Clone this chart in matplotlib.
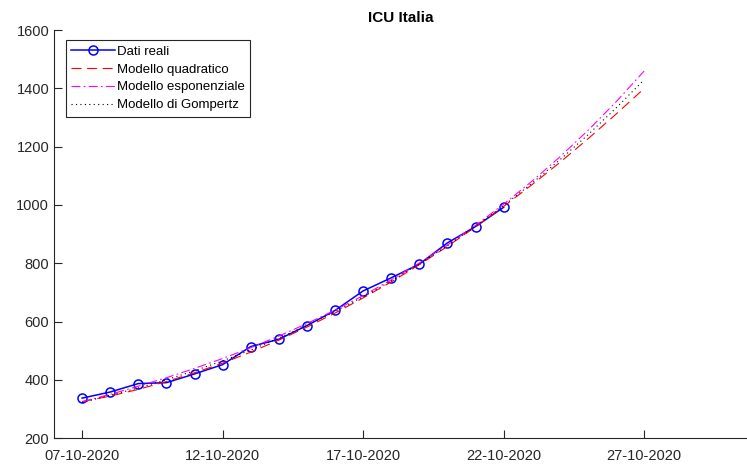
import numpy as np
import pandas as pd
import matplotlib
matplotlib.use("Agg")
import matplotlib.pyplot as plt
import matplotlib.dates as mdates

plt.rcParams['font.family'] = ['Liberation Sans', 'DejaVu Sans']

# Real data: ICU occupancy, 07-10-2020 .. 22-10-2020
dates_real = pd.date_range("2020-10-07", "2020-10-22", freq="D")
icu_real = [337, 358, 387, 390, 420, 452, 514, 539, 586, 638,
            705, 750, 797, 870, 926, 992]

# Model fits, 07-10-2020 .. 27-10-2020
dates_model = pd.date_range("2020-10-07", "2020-10-27", freq="D")
quadratic = [325, 344, 367, 394, 424, 457, 495, 536, 581, 629, 681,
             736, 795, 858, 925, 995, 1069, 1146, 1227, 1312, 1400]
exponential = [325, 350, 378, 407, 439, 473, 510, 550, 593, 639, 689,
               743, 801, 863, 930, 1003, 1081, 1165, 1256, 1354, 1460]
gompertz = [322, 347, 372, 400, 431, 465, 502, 543, 587, 634, 685,
            739, 798, 860, 927, 998, 1074, 1155, 1241, 1333, 1430]

tick_dates = pd.date_range("2020-10-07", "2020-10-27", freq="5D")

fig = plt.figure(figsize=(7.47, 4.65), dpi=100)
ax = fig.add_axes([0.0723, 0.058, 0.9277, 0.877])

ax.plot(dates_real, icu_real, color=(0, 0, 1), lw=1.1, marker='o',
        markersize=6.5, markerfacecolor='none', markeredgewidth=1.1,
        label="Dati reali")
ax.plot(dates_model, quadratic, color=(1, 0, 0), lw=0.8, ls=(0, (9, 5)),
        label="Modello quadratico")
ax.plot(dates_model, exponential, color=(1, 0, 1), lw=0.8, ls=(0, (8, 3, 1.5, 3)),
        label="Modello esponenziale")
ax.plot(dates_model, gompertz, color='black', lw=0.8, ls=(0, (1, 3)),
        label="Modello di Gompertz")

ax.set_xlim(pd.Timestamp("2020-10-06"), pd.Timestamp("2020-10-06") + pd.Timedelta(days=24.66))
ax.set_ylim(200, 1600)
ax.set_yticks(np.arange(200, 1601, 200))
ax.set_xticks(tick_dates)
ax.xaxis.set_major_formatter(mdates.DateFormatter("%d-%m-%Y"))

for side in ['top', 'right']:
    ax.spines[side].set_visible(False)
for side in ['left', 'bottom']:
    ax.spines[side].set_color('#262626')
    ax.spines[side].set_linewidth(0.8)
ax.tick_params(direction='in', length=6, width=0.8, color='#262626',
               labelcolor='#262626', labelsize=10.5)
ax.tick_params(axis='x', pad=8)

ax.set_title("ICU Italia", fontsize=11, fontweight='bold', pad=6)

leg = ax.legend(loc='upper left', bbox_to_anchor=(0.017, 0.975), fontsize=9.5,
                fancybox=False, framealpha=1, edgecolor='#262626',
                handlelength=3.3, handletextpad=0.15, borderpad=0.4,
                labelspacing=0.42, borderaxespad=0)
leg.get_frame().set_linewidth(0.8)

fig.savefig("out.png", dpi=100)
plt.close()
